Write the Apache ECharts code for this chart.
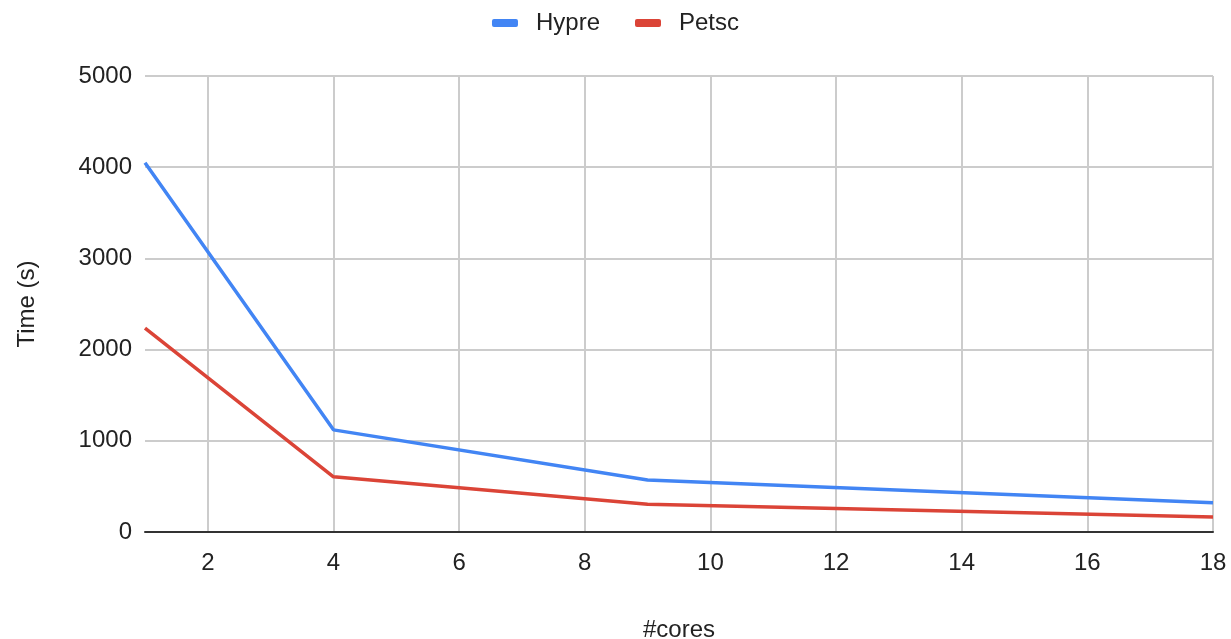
<!DOCTYPE html>
<html>
<head>
<meta charset="utf-8">
<script src="https://cdn.jsdelivr.net/npm/echarts@6/dist/echarts.min.js"></script>
<style>
  html, body { margin: 0; padding: 0; background: #fff; }
  #chart { width: 1231px; height: 639px; }
</style>
</head>
<body>
<div id="chart"></div>
<script>
// 数据
var cores = [1, 4, 9, 18]
var hypre = [4050, 1120, 570, 320]
var petsc = [2235, 605, 305, 165]
var xTicks = [2, 4, 6, 8, 10, 12, 14, 16, 18]

var chart = echarts.init(document.getElementById('chart'))
var font = "'Liberation Sans', Arial, sans-serif"

function pairs(xs, ys) {
  return xs.map(function (x, i) { return [x, ys[i]] })
}

chart.setOption({
  animation: false,
  textStyle: { fontFamily: font },
  legend: {
    top: 6,
    left: 'center',
    icon: 'roundRect',
    itemWidth: 26,
    itemHeight: 8,
    itemGap: 35,
    textStyle: { fontSize: 24, color: '#222', fontFamily: font, padding: [0, 0, 0, 13] },
    data: ['Hypre', 'Petsc']
  },
  grid: { left: 145, right: 18, top: 76, bottom: 107, outerBoundsMode: 'none', containLabel: false },
  xAxis: {
    type: 'value',
    min: 1,
    max: 18,
    name: '#cores',
    nameLocation: 'middle',
    nameGap: 86,
    nameTextStyle: { fontSize: 24, color: '#222', fontFamily: font },
    axisLine: { show: true, lineStyle: { color: '#333', width: 2 } },
    axisTick: { show: false, customValues: xTicks },
    axisLabel: { customValues: xTicks, fontSize: 24, color: '#222', margin: 19, fontFamily: font },
    splitLine: { show: true, lineStyle: { color: '#ccc', width: 2 } }
  },
  yAxis: {
    type: 'value',
    min: 0,
    max: 5000,
    interval: 1000,
    name: 'Time (s)',
    nameLocation: 'middle',
    nameGap: 106,
    nameTextStyle: { fontSize: 24, color: '#222', fontFamily: font },
    axisLine: { show: false },
    axisTick: { show: false },
    axisLabel: {
      fontSize: 24,
      color: '#222',
      margin: 13,
      fontFamily: font,
      formatter: function (v) { return String(v) }
    },
    splitLine: { lineStyle: { color: '#ccc', width: 2 } }
  },
  series: [
    {
      name: 'Hypre',
      type: 'line',
      data: pairs(cores, hypre),
      showSymbol: false,
      symbol: 'none',
      color: '#4285F4',
      lineStyle: { width: 3.5 }
    },
    {
      name: 'Petsc',
      type: 'line',
      data: pairs(cores, petsc),
      showSymbol: false,
      symbol: 'none',
      color: '#DB4437',
      lineStyle: { width: 3.5 }
    }
  ]
})
</script>
</body>
</html>
